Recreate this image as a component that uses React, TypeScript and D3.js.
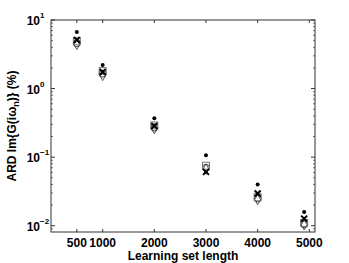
import React from 'react';
import * as d3 from 'd3';

// learning set lengths (last group sits a bit left of 5000)
const lengths = [500, 1000, 2000, 3000, 4000, 4900];
const xTicks = [500, 1000, 2000, 3000, 4000, 5000];
const yTicks = [0.01, 0.1, 1, 10];

// ARD values (%) per marker series
const dotVals = [6.7, 2.2, 0.37, 0.107, 0.040, 0.0159];
const crossVals = [5.1, 1.74, 0.284, 0.061, 0.0295, 0.0127];
const squareVals = [4.9, 1.8, 0.29, 0.075, 0.026, 0.011];
const circleVals = [4.6, 1.65, 0.27, 0.07, 0.025, 0.0105];
const diamondVals = [4.4, 1.55, 0.26, 0.067, 0.024, 0.0103];

const W = 349, H = 263;
const margin = { left: 51, right: 34, top: 20, bottom: 31 };
const font = '"Liberation Sans", Arial, sans-serif';

export default function App() {
  const x = d3.scaleLinear().domain([0, 5110]).range([margin.left, W - margin.right]);
  const y = d3.scaleLog().domain([0.0081, 10]).range([H - margin.bottom, margin.top]);
  const x0 = margin.left, x1 = W - margin.right, y0 = H - margin.bottom, y1 = margin.top;

  // minor ticks on the log axis
  const minor: number[] = [];
  [0.001, 0.01, 0.1, 1].forEach(d => {
    for (let k = 2; k <= 9; k++) {
      const v = d * k;
      if (v >= 0.0081 && v <= 10) minor.push(v);
    }
  });

  const axisCol = '#333';
  const diamond = d3.symbol().type(d3.symbolDiamond).size(30)();

  return (
    <svg width={W} height={H} style={{ position: 'absolute', left: 0, top: 0, background: '#fff' }}>
      <rect x={x0} y={y1} width={x1 - x0} height={y0 - y1} fill="none" stroke={axisCol} strokeWidth={1} />
      {/* y ticks */}
      {yTicks.map(t => (
        <g key={t}>
          <line x1={x0} x2={x0 + 4} y1={y(t)} y2={y(t)} stroke={axisCol} />
          <line x1={x1} x2={x1 - 4} y1={y(t)} y2={y(t)} stroke={axisCol} />
          <text x={40} y={y(t) + 5} textAnchor="end" fontFamily={font} fontWeight="bold" fontSize={12}>10</text>
          <text x={40} y={y(t) - 2} textAnchor="start" fontFamily={font} fontWeight="bold" fontSize={8}>
            {Math.round(Math.log10(t)) < 0 ? '\u2212' + Math.abs(Math.round(Math.log10(t))) : Math.round(Math.log10(t))}
          </text>
        </g>
      ))}
      {minor.map(t => (
        <g key={'m' + t}>
          <line x1={x0} x2={x0 + 2} y1={y(t)} y2={y(t)} stroke={axisCol} strokeWidth={0.7} />
          <line x1={x1} x2={x1 - 2} y1={y(t)} y2={y(t)} stroke={axisCol} strokeWidth={0.7} />
        </g>
      ))}
      {/* x ticks */}
      {xTicks.map(t => (
        <g key={'x' + t}>
          <line x1={x(t)} x2={x(t)} y1={y0} y2={y0 - 3} stroke={axisCol} />
          <line x1={x(t)} x2={x(t)} y1={y1} y2={y1 + 3} stroke={axisCol} />
          <text x={x(t)} y={247} textAnchor="middle" fontFamily={font} fontWeight="bold" fontSize={12}>{t}</text>
        </g>
      ))}
      <text x={(x0 + x1) / 2} y={260} textAnchor="middle" fontFamily={font} fontWeight="bold" fontSize={12}>Learning set length</text>
      <text transform={`translate(16,${(y0 + y1) / 2}) rotate(-90)`} textAnchor="middle" fontFamily={font} fontWeight="bold" fontSize={12}>
        ARD Im{'{'}G(iω<tspan fontSize={9} dy={3}>n</tspan><tspan dy={-3}>)</tspan>{'}'} (%)
      </text>
      {/* markers */}
      {lengths.map((l, i) => (
        <g key={'g' + l}>
          <path d={diamond} transform={`translate(${x(l)},${y(diamondVals[i])})`} fill="none" stroke="#555" strokeWidth={1} />
          <circle cx={x(l)} cy={y(circleVals[i])} r={3.5} fill="none" stroke="#333" strokeWidth={1} />
          <rect x={x(l) - 3.5} y={y(squareVals[i]) - 3.5} width={7} height={7} fill="none" stroke="#777" strokeWidth={1} />
          <path d={`M${x(l) - 3},${y(crossVals[i]) - 3}L${x(l) + 3},${y(crossVals[i]) + 3}M${x(l) - 3},${y(crossVals[i]) + 3}L${x(l) + 3},${y(crossVals[i]) - 3}`} stroke="#000" strokeWidth={2} />
          <circle cx={x(l)} cy={y(dotVals[i])} r={2} fill="#000" />
        </g>
      ))}
    </svg>
  );
}
